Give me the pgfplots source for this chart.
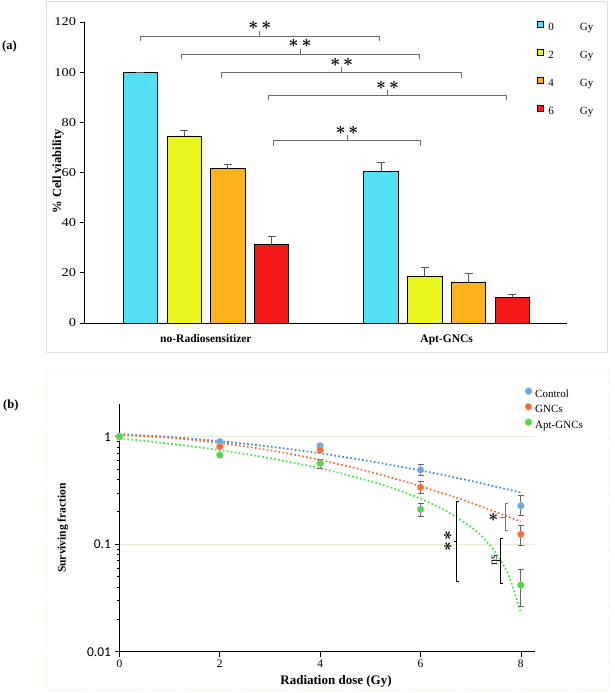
\documentclass[border=0pt]{standalone}
\usepackage{fontspec}
\setmainfont{Liberation Serif}
\newfontfamily\carlito{Carlito}
\newfontfamily\widefont[FakeStretch=1.2]{Liberation Serif}
\usepackage{pgfplots}
\pgfplotsset{compat=1.18}
\definecolor{barcyan}{HTML}{52E0F4}
\definecolor{baryellow}{HTML}{E9F71F}
\definecolor{barorange}{HTML}{FFB21C}
\definecolor{barred}{HTML}{F51A1A}
\definecolor{ctrl}{HTML}{5AADF0}
\definecolor{gnc}{HTML}{FF6A2B}
\definecolor{apt}{HTML}{47E03B}
\definecolor{ctrlline}{HTML}{3A8BE8}
\definecolor{gncline}{HTML}{F26A2E}
\definecolor{aptline}{HTML}{3AE83A}
\definecolor{gridc}{HTML}{EAEAD8}
\definecolor{frameb}{HTML}{EDEBD5}
\definecolor{brk}{HTML}{6E6E6E}

\newcommand{\bst}{{\boldmath$\ast$}}
\newcommand{\stars}{\bst\hspace{3pt}\bst}
\newcommand{\brkA}[4]{%
  \draw[brk, line width=0.9pt] ([yshift=-4.7pt]axis cs:#1,#3) -- (axis cs:#1,#3) -- (axis cs:#2,#3) -- ([yshift=-4.7pt]axis cs:#2,#3);
  \draw[brk, line width=0.9pt] (axis cs:#4,#3) -- ([yshift=5.5pt]axis cs:#4,#3);
  \node[font=\fontsize{17}{17}\selectfont, inner sep=0pt] at ([yshift=10.5pt]axis cs:#4,#3) {\stars};}

\pgfplotsset{
  errA/.style={error bars/y dir=plus, error bars/y explicit,
    error bars/error bar style={black!65, line width=0.8pt},
    error bars/error mark options={rotate=90, black!65, mark size=4pt, line width=0.8pt}},
  errB/.style={error bars/y dir=both, error bars/y explicit,
    error bars/error bar style={black!60, line width=0.8pt},
    error bars/error mark options={rotate=90, black!60, mark size=3pt, line width=0.8pt}},
  trend/.style={line width=1.7pt, dash pattern=on 1.7pt off 2.3pt, smooth, forget plot},
}

\begin{document}
\begin{tikzpicture}[x=1pt,y=1pt]
\useasboundingbox (0,0) rectangle (614,693);
\draw[black!13, line width=1pt] (46.7,691) rectangle (607,340);
\draw[frameb, dotted, line width=0.8pt] (46.7,323) rectangle (608,3);
\node[anchor=west, font=\bfseries\fontsize{12.5}{12.5}\selectfont, inner sep=0pt] at (2,646.3) {(a)};
\node[anchor=west, font=\bfseries\fontsize{12.5}{12.5}\selectfont, inner sep=0pt] at (3,288) {(b)};

% ---------------- panel (a)
\begin{axis}[
  at={(84.6pt,370pt)}, anchor=south west,
  scale only axis, width=482.4pt, height=301pt,
  xmin=-0.504, xmax=1.5, ymin=0, ymax=120,
  axis x line=bottom, axis y line=left,
  axis line style={-, black, line width=0.8pt},
  ytick={0,20,...,120}, xtick={0,1},
  xticklabels={no-Radiosensitizer,Apt-GNCs},
  major x tick style={draw=none},
  tick align=outside, major tick length=5pt,
  tick style={black, line width=0.8pt},
  /pgf/number format/assume math mode=true,
  yticklabel style={font=\widefont\fontsize{12}{12}\selectfont},
  xticklabel style={font=\bfseries\fontsize{11.5}{11.5}\selectfont, yshift=-3pt},
  ylabel={\% Cell viability},
  ylabel style={font=\bfseries\fontsize{12.5}{12.5}\selectfont, at={(axis description cs:-0.055,0.503)}, anchor=center},
  ybar, bar width=0.1425,
  clip=false,
  legend cell align=left,
  legend style={at={(axis description cs:0.9384,1.0027)}, anchor=north west, draw=none, fill=none,
    font=\fontsize{11}{11}\selectfont, row sep=15.4pt, inner sep=0pt,
    nodes={inner sep=0pt, text height=8pt, text depth=3pt},
    /tikz/every odd column/.append style={column sep=4.5pt}},
  legend image code/.code={\draw[#1,/tikz/.cd,draw=black,line width=0.5pt] (0pt,0.8pt) rectangle (6pt,6.8pt);},
]
\addplot[fill=barcyan, draw=black, line width=0.7pt, bar shift=-0.273, errA]
  coordinates {(0,100) +- (0,0) (1,60.5) +- (0,3.6)};
\addplot[fill=baryellow, draw=black, line width=0.7pt, bar shift=-0.091, errA]
  coordinates {(0,74.6) +- (0,2.1) (1,18.6) +- (0,3.6)};
\addplot[fill=barorange, draw=black, line width=0.7pt, bar shift=0.091, errA]
  coordinates {(0,61.5) +- (0,1.8) (1,16.4) +- (0,3.2)};
\addplot[fill=barred, draw=black, line width=0.7pt, bar shift=0.273, errA]
  coordinates {(0,31.4) +- (0,3.3) (1,10.2) +- (0,1.1)};
\legend{{0\hspace{26pt}Gy},{2\hspace{26pt}Gy},{4\hspace{26pt}Gy},{6\hspace{26pt}Gy}}
\brkA{-0.2716}{0.720}{114.3}{0.224}
\brkA{-0.1034}{0.886}{107.2}{0.391}
\brkA{0.0656}{1.062}{99.7}{0.564}
\brkA{0.261}{1.249}{90.6}{0.755}
\brkA{0.281}{0.891}{72.6}{0.586}
\end{axis}

% ---------------- panel (b)
\begin{axis}[
  at={(119.5pt,41.3pt)}, anchor=south west,
  scale only axis, width=415.9pt, height=247.4pt,
  ymode=log, xmin=0, xmax=8.29, ymin=0.01, ymax=2,
  axis x line=bottom, axis y line=left,
  axis line style={-, black, line width=0.8pt},
  xtick={0,2,4,6,8}, ytick={0.01,0.1,1}, yticklabels={0.01,0.1,1},
  tick align=outside, major tick length=5pt, minor tick length=3pt,
  tick style={black, line width=0.7pt},
  ymajorgrids, major grid style={gridc, line width=0.8pt},
  /pgf/number format/assume math mode=true,
  xticklabel style={font=\fontsize{11.5}{11.5}\selectfont},
  yticklabel style={font=\carlito\fontsize{13.5}{13.5}\selectfont},
  xlabel={Radiation dose (Gy)},
  xlabel style={font=\bfseries\fontsize{13}{13}\selectfont, at={(axis description cs:0.5206,-0.121)}, anchor=center},
  ylabel={Surviving fraction},
  ylabel style={font=\bfseries\fontsize{11.5}{11.5}\selectfont, at={(axis description cs:-0.136,0.5)}, anchor=center},
  clip=false,
  legend cell align=left,
  legend style={at={(axis description cs:0.9745,1.068)}, anchor=north west, draw=none, fill=none,
    font=\fontsize{11}{11}\selectfont, row sep=2.8pt, inner sep=0pt,
    nodes={inner sep=0pt, text height=8pt, text depth=3pt},
    /tikz/every odd column/.append style={column sep=3.2pt}},
  legend image code/.code={\draw[mark repeat=2,mark phase=2,#1] plot coordinates {(0pt,3.7pt) (3.5pt,3.7pt) (7pt,3.7pt)};},
]
\addplot[ctrlline, trend] coordinates {(0,1.059) (1,0.994) (2,0.908) (3,0.808) (4,0.700) (5,0.590) (6,0.485) (7,0.388) (8,0.302)};
\addplot[gncline, trend] coordinates {(0,1.037) (1,0.976) (2,0.875) (3,0.747) (4,0.607) (5,0.470) (6,0.346) (7,0.243) (8,0.162)};
\addplot[aptline, trend] coordinates {(0,0.966) (1,0.86) (2,0.75) (3,0.63) (4,0.508) (5,0.385) (5.5,0.325) (6,0.265) (6.5,0.205) (7,0.145) (7.25,0.115) (7.5,0.083) (7.75,0.052) (8,0.023)};

\addplot[only marks, mark=*, mark size=3.5pt, mark options={fill=ctrl, draw=black!25, line width=0.5pt}, errB]
  coordinates {(0,1) (2,0.90) +- (0,0.02) (4,0.82) +- (0,0.04) (6,0.49) += (0,0.06) -= (0,0.05) (8,0.228) += (0,0.059) -= (0,0.041)};
\addplot[only marks, mark=*, mark size=3.5pt, mark options={fill=gnc, draw=black!25, line width=0.5pt}, errB]
  coordinates {(0,1) (2,0.807) +- (0,0.03) (4,0.752) +- (0,0.04) (6,0.338) += (0,0.042) -= (0,0.041) (8,0.1236) += (0,0.0274) -= (0,0.0256)};
\addplot[only marks, mark=*, mark size=3.5pt, mark options={fill=apt, draw=black!25, line width=0.5pt}, errB]
  coordinates {(0,1) (2,0.675) +- (0,0.03) (4,0.565) += (0,0.051) -= (0,0.057) (6,0.211) += (0,0.029) -= (0,0.028) (8,0.0417) += (0,0.0163) -= (0,0.0154)};
\legend{Control,GNCs,Apt-GNCs}

\draw[black, line width=0.9pt] ([xshift=3.3pt]axis cs:6.71,0.248) -- (axis cs:6.71,0.248) -- (axis cs:6.71,0.0448) -- ([xshift=3.3pt]axis cs:6.71,0.0448);
\draw[black, line width=0.9pt] (axis cs:6.71,0.107) -- ([xshift=-2.5pt]axis cs:6.71,0.107);
\node[rotate=90, font=\fontsize{17}{17}\selectfont, inner sep=0pt] at (axis cs:6.548,0.107) {\bst\hspace{1pt}\bst};

\draw[black!55, line width=0.9pt] ([xshift=3pt]axis cs:7.684,0.24) -- (axis cs:7.684,0.24) -- (axis cs:7.684,0.1355) -- ([xshift=3pt]axis cs:7.684,0.1355);
\draw[black!55, line width=0.9pt] (axis cs:7.684,0.1766) -- ([xshift=-5pt]axis cs:7.684,0.1766);
\node[font=\fontsize{17}{17}\selectfont, inner sep=0pt] at (axis cs:7.45,0.1766) {\bst};

\draw[black, line width=0.9pt] ([xshift=3pt]axis cs:7.584,0.1135) -- (axis cs:7.584,0.1135) -- (axis cs:7.584,0.0433) -- ([xshift=3pt]axis cs:7.584,0.0433);
\draw[black, line width=0.9pt] (axis cs:7.584,0.0713) -- ([xshift=-2.5pt]axis cs:7.584,0.0713);
\node[rotate=90, font=\fontsize{12}{12}\selectfont, inner sep=0pt] at (axis cs:7.47,0.0713) {ns};
\end{axis}
\end{tikzpicture}
\end{document}
